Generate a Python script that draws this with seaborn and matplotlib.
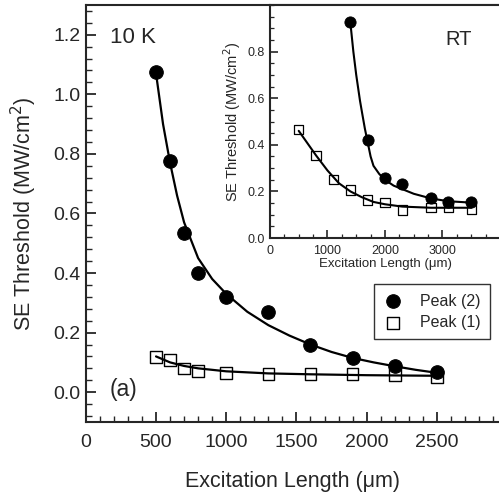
import numpy as np
import pandas as pd
import matplotlib
matplotlib.use("Agg")
import matplotlib.pyplot as plt
from matplotlib.ticker import MultipleLocator
import seaborn as sns

# 10 K data (main panel)
len_10k = [500, 600, 700, 800, 1000, 1300, 1600, 1900, 2200, 2500]
peak2_10k = [1.075, 0.775, 0.535, 0.40, 0.32, 0.27, 0.158, 0.115, 0.088, 0.067]
peak1_10k = [0.118, 0.108, 0.080, 0.071, 0.064, 0.060, 0.060, 0.060, 0.057, 0.050]

# fit curves
fit2_10k_x = [500, 550, 600, 650, 700, 800, 900, 1000, 1150, 1300, 1450, 1600, 1750, 1900, 2050, 2200, 2350, 2500]
fit2_10k_y = [1.07, 0.90, 0.77, 0.66, 0.57, 0.45, 0.38, 0.33, 0.27, 0.225, 0.19, 0.16, 0.135, 0.115, 0.10, 0.087, 0.075, 0.065]
fit1_10k_x = [500, 600, 700, 800, 1000, 1300, 1600, 2000, 2500]
fit1_10k_y = [0.12, 0.10, 0.088, 0.08, 0.07, 0.063, 0.06, 0.057, 0.055]

# room temperature data (inset)
len_rt2 = [1400, 1700, 2000, 2300, 2800, 3100, 3500]
peak2_rt = [0.926, 0.42, 0.258, 0.232, 0.17, 0.156, 0.154]
len_rt1 = [500, 800, 1100, 1400, 1700, 2000, 2300, 2800, 3100, 3500]
peak1_rt = [0.465, 0.353, 0.25, 0.206, 0.163, 0.152, 0.12, 0.13, 0.13, 0.125]

fit2_rt_x = [1400, 1450, 1500, 1565, 1600, 1650, 1700, 1750, 1800, 1900, 2000, 2150, 2300, 2500, 2800, 3100, 3500]
fit2_rt_y = [0.92, 0.80, 0.70, 0.59, 0.54, 0.47, 0.41, 0.35, 0.31, 0.275, 0.25, 0.225, 0.21, 0.19, 0.17, 0.158, 0.152]
fit1_rt_x = [500, 700, 800, 1000, 1200, 1400, 1600, 1800, 2000, 2300, 2800, 3500]
fit1_rt_y = [0.46, 0.39, 0.355, 0.29, 0.235, 0.20, 0.175, 0.155, 0.145, 0.135, 0.13, 0.13]

sns.set_theme(style="ticks")
plt.rcParams["font.family"] = ["Liberation Sans", "DejaVu Sans"]
plt.rcParams["axes.linewidth"] = 1.5
plt.rcParams["xtick.direction"] = "in"
plt.rcParams["ytick.direction"] = "in"

fig = plt.figure(figsize=(4.99, 4.97), dpi=100)
ax = fig.add_axes([0.172, 0.151, 0.83, 0.839])

sns.lineplot(x=fit2_10k_x, y=fit2_10k_y, ax=ax, color="black", lw=1.6, sort=False)
sns.lineplot(x=fit1_10k_x, y=fit1_10k_y, ax=ax, color="black", lw=1.6, sort=False)
sns.scatterplot(x=len_10k, y=peak2_10k, ax=ax, marker="o", s=95, color="black",
                edgecolor="black", label="Peak (2)", zorder=3)
sns.scatterplot(x=len_10k, y=peak1_10k, ax=ax, marker="s", s=70, facecolor="none",
                edgecolor="black", linewidth=1.0, label="Peak (1)", zorder=3)

ax.set_xlim(0, 2950)
ax.set_ylim(-0.1, 1.3)
ax.xaxis.set_major_locator(MultipleLocator(500))
ax.xaxis.set_minor_locator(MultipleLocator(100))
ax.yaxis.set_major_locator(MultipleLocator(0.2))
ax.yaxis.set_minor_locator(MultipleLocator(0.04))
ax.yaxis.set_major_formatter(plt.FormatStrFormatter("%.1f"))
ax.tick_params(which="major", length=7, width=1.3, labelsize=14)
ax.tick_params(axis="y", which="major", pad=4)
ax.tick_params(axis="x", which="major", pad=9)
ax.tick_params(which="minor", length=4, width=1.0)
ax.spines["right"].set_visible(False)
ax.set_xlabel("Excitation Length (\u03bcm)", fontsize=15.5, labelpad=14)
ax.set_ylabel("SE Threshold (MW/cm$^2$)", fontsize=15.5, labelpad=10)
ax.text(0.058, 0.923, "10 K", transform=ax.transAxes, fontsize=16, va="center")
ax.text(0.058, 0.077, "(a)", transform=ax.transAxes, fontsize=16.5, va="center")

leg = ax.legend(loc="upper right", bbox_to_anchor=(0.976, 0.331), borderaxespad=0,
                fontsize=11.5, frameon=True, fancybox=False, edgecolor="black",
                borderpad=0.6, handlelength=1.2, handletextpad=1.1,
                labelspacing=0.4, markerscale=1.0)
leg.get_frame().set_linewidth(1.0)

# inset (room temperature)
ins = fig.add_axes([0.541, 0.521, 0.461, 0.469])
ins.set_facecolor("white")
sns.lineplot(x=fit2_rt_x, y=fit2_rt_y, ax=ins, color="black", lw=1.5, sort=False)
sns.lineplot(x=fit1_rt_x, y=fit1_rt_y, ax=ins, color="black", lw=1.5, sort=False)
sns.scatterplot(x=len_rt2, y=peak2_rt, ax=ins, marker="o", s=65, color="black",
                edgecolor="black", zorder=3)
sns.scatterplot(x=len_rt1, y=peak1_rt, ax=ins, marker="s", s=45, facecolor="none",
                edgecolor="black", linewidth=0.9, zorder=3)
ins.set_xlim(0, 4000)
ins.set_ylim(0, 1.0)
ins.set_xticks([0, 1000, 2000, 3000])
ins.xaxis.set_minor_locator(MultipleLocator(250))
ins.set_yticks([0.0, 0.2, 0.4, 0.6, 0.8])
ins.yaxis.set_minor_locator(MultipleLocator(0.05))
ins.yaxis.set_major_formatter(plt.FormatStrFormatter("%.1f"))
ins.tick_params(which="major", length=6, width=1.2, labelsize=9)
ins.tick_params(axis="y", which="major", pad=4)
ins.tick_params(axis="x", which="major", pad=5)
ins.tick_params(which="minor", length=3, width=0.9)
ins.spines["right"].set_visible(False)
ins.set_xlabel("Excitation Length (\u03bcm)", fontsize=9.5, labelpad=1)
ins.set_ylabel("SE Threshold (MW/cm$^2$)", fontsize=10.5, labelpad=3)
ins.text(0.764, 0.85, "RT", transform=ins.transAxes, fontsize=14.5, va="center")

fig.savefig("out.png", dpi=100)
